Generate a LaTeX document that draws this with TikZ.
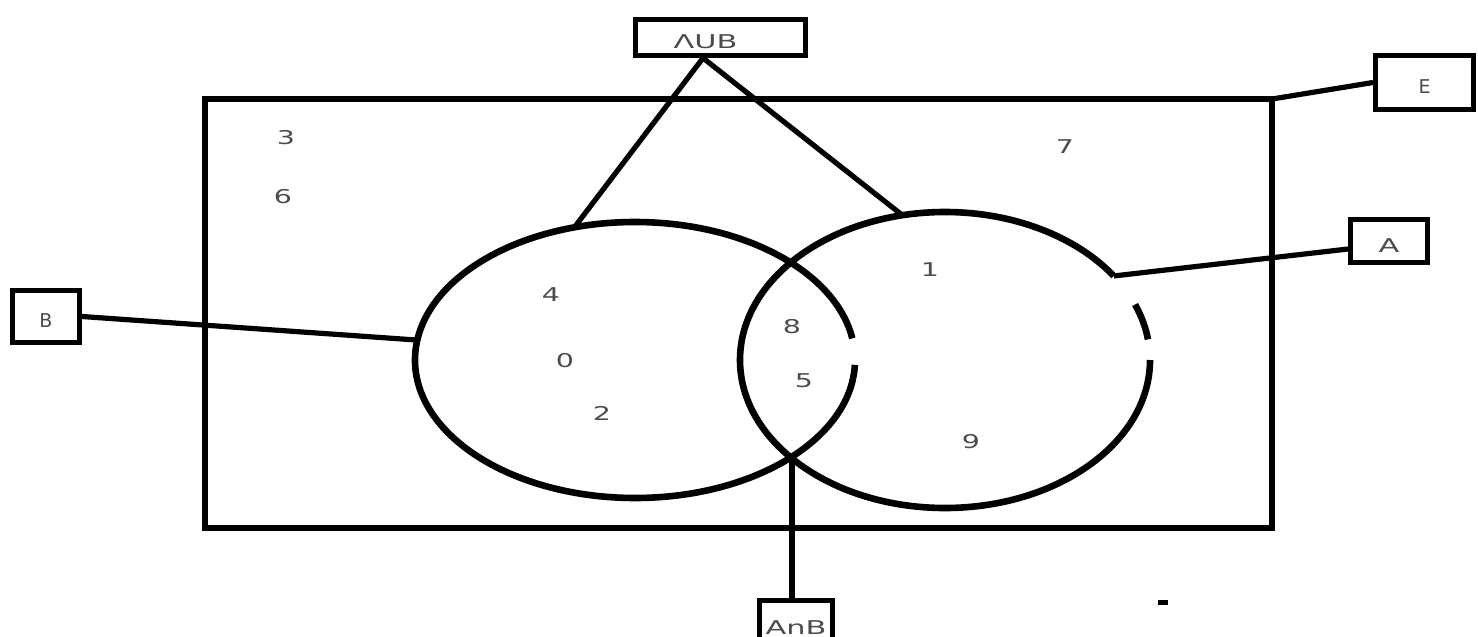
\documentclass[tikz,border=0pt]{standalone}
\usepackage{fontspec}
\setmainfont{DejaVu Sans}
\newfontfamily\widesans[FakeStretch=1.6]{DejaVu Sans}
\newfontfamily\digitsans[FakeStretch=1.5]{DejaVu Sans}
\usetikzlibrary{calc}
\begin{document}
\begin{tikzpicture}[x=0.5pt,y=-0.5pt,
  setline/.style={line width=3.3pt},
  frame/.style={line width=3pt},
  link/.style={line width=2.6pt},
  lbl/.style={draw, line width=2.6pt, inner sep=0pt, text height=11pt, text depth=0pt,
              font=\widesans\fontsize{9.5}{10}\selectfont, text=black!70},
  small/.style={font=\fontsize{9.5}{10}\selectfont},
  num/.style={font=\digitsans\fontsize{9.5}{11}\selectfont, text=black!70}]
\useasboundingbox (0,0) rectangle (1478,637);

% universe
\coordinate (u1) at (205,99);
\coordinate (u2) at (1272,528);
\draw[frame] (u1) rectangle (u2);
\coordinate (ucorner) at (1272,99);

% ellipse centres
\coordinate (bc) at (635,360);
\coordinate (ac) at (945,360);

% set B (left), with a small break on its right side
\draw[setline] (bc) ++(2:220 and 138) arc[start angle=2, end angle=351, x radius=220, y radius=138];
% set A (right), broken near the top right
\draw[setline] (ac) ++(0:205 and 148) arc[start angle=0, end angle=325.4, x radius=205, y radius=148];
\draw[setline] (ac) ++(338:205 and 148) arc[start angle=338, end angle=352, x radius=205, y radius=148];

% points on the outlines
\coordinate (bTop) at ($(bc)+(254:220 and 138)$);
\coordinate (bLeft) at ($(bc)+(188.3:220 and 138)$);
\coordinate (aTop) at ($(ac)+(258:205 and 148)$);
\coordinate (aRight) at ($(ac)+(325.4:205 and 148)$);
\coordinate (cap) at (792,456);

% label boxes
\node[lbl, minimum width=84.9pt, minimum height=17.9pt] (aub) at (720.5,37.5) {\makebox[0pt]{\hspace*{-15pt}ΛUB}};
\node[lbl, small, minimum width=48.9pt, minimum height=26.9pt] (e) at (1424.5,82.5) {E};
\node[lbl, minimum width=38.4pt, minimum height=21.4pt] (a) at (1389,241) {A};
\node[lbl, small, minimum width=33.4pt, minimum height=25.9pt] (b) at (46,316.5) {B};
\node[lbl, minimum width=36.4pt, minimum height=22.4pt] (anb) at (796,623) {AnB};

% connectors
\coordinate (apex) at ([xshift=-8.75pt]aub.south);
\draw[link] (bTop) -- (apex) -- (aTop);
\draw[link] (ucorner) -- (e.west);
\draw[link] (aRight) -- ([yshift=-4pt]a.west);
\draw[link] (b.east) -- (bLeft);
\draw[link] (cap) -- (cap |- anb.north);

% elements
\node[num] (n3) at (286,138) {3};
\node[num] (n6) at (283,197) {6};
\node[num] (n7) at (1065,147) {7};
\node[num] (n4) at (551,295) {4};
\node[num] (n0) at (565,361) {0};
\node[num] (n2) at (602,413) {2};
\node[num] (n1) at (930,270) {1};
\node[num] (n8) at (792,327) {8};
\node[num] (n5) at (804,381) {5};
\node[num] (n9) at (971,442) {9};

% stray mark
\fill (1158,600) rectangle (1168,605);
\end{tikzpicture}
\end{document}
